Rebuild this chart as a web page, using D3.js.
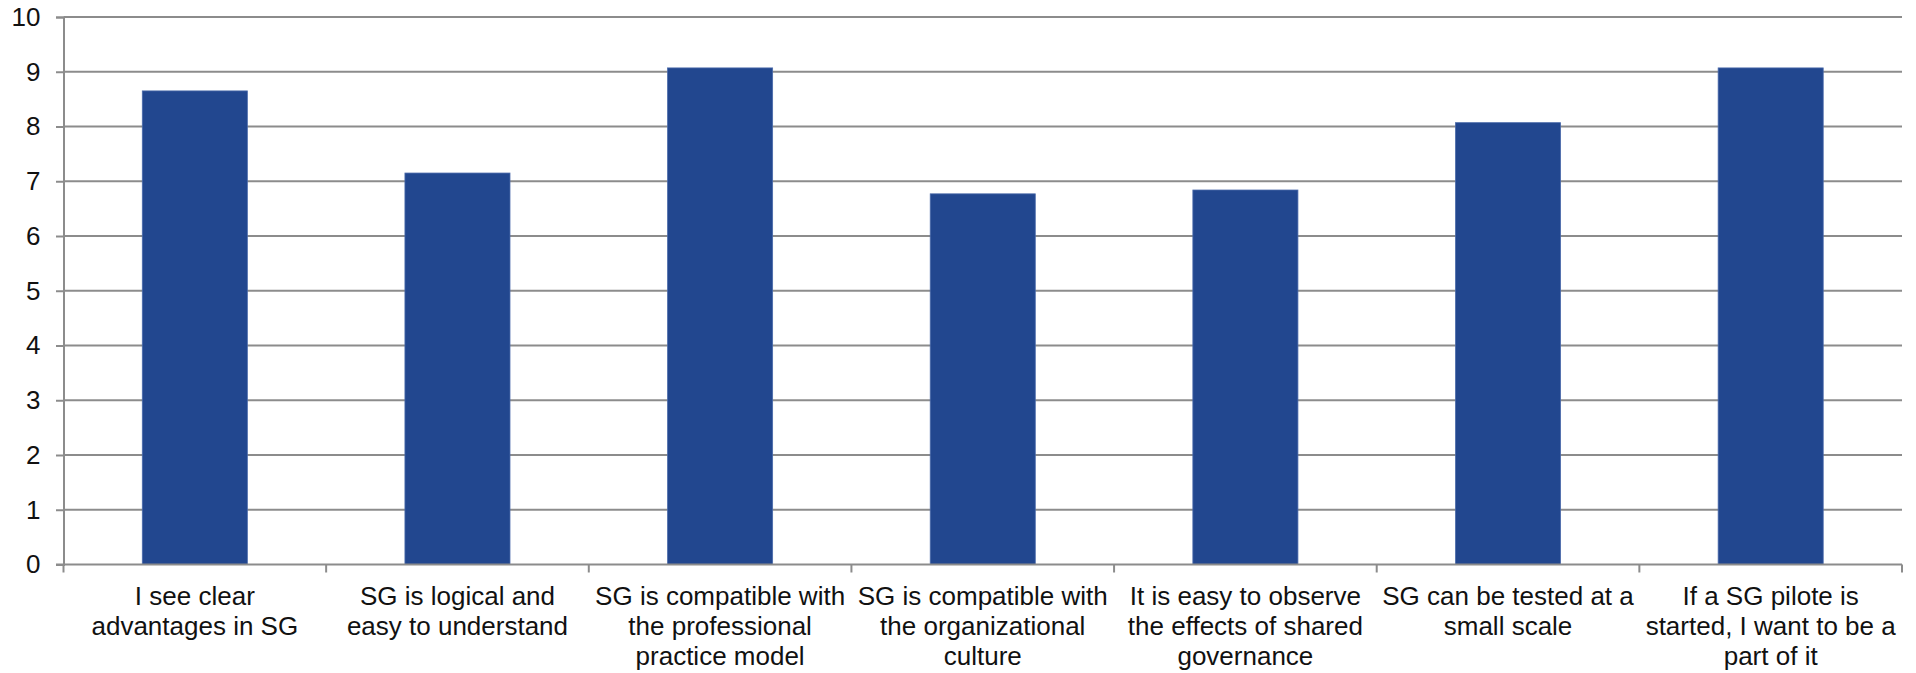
<!DOCTYPE html>
<html>
<head>
<meta charset="utf-8">
<script src="https://cdn.jsdelivr.net/npm/d3@7/dist/d3.min.js"></script>
<style>
  html, body { margin: 0; padding: 0; background: #ffffff; }
  svg { display: block; }
  text { font-family: "Liberation Sans", Arial, sans-serif; fill: #111; }
</style>
</head>
<body>
<svg id="chart" width="1916" height="673"></svg>
<script>
// Survey statements (line breaks mark where each label wraps)
const categories = [
  "I see clear\nadvantages in SG",
  "SG is logical and\neasy to understand",
  "SG is compatible with\nthe professional\npractice model",
  "SG is compatible with\nthe organizational\nculture",
  "It is easy to observe\nthe effects of shared\ngovernance",
  "SG can be tested at a\nsmall scale",
  "If a SG pilote is\nstarted, I want to be a\npart of it"
];
// Mean agreement score per statement
const scores = [8.65, 7.15, 9.07, 6.77, 6.84, 8.07, 9.07];
// Value axis ticks
const yTicks = [0, 1, 2, 3, 4, 5, 6, 7, 8, 9, 10];

const svg = d3.select("#chart");
const plot = { left: 63.5, right: 1902, top: 17, bottom: 564.5 };

const y = d3.scaleLinear().domain([0, 10]).range([plot.bottom, plot.top]);
// Category slots (ticks sit on slot boundaries)
const xSlot = d3.scaleBand().domain(d3.range(categories.length)).range([plot.left, plot.right]).padding(0);
// Bars: 40% of each slot, centred
const xBar = d3.scaleBand().domain(d3.range(categories.length)).range([plot.left, plot.right])
  .paddingInner(0.6).paddingOuter(0.3);

const gridColor = "#8c8c8c";

// Horizontal gridlines
svg.append("g")
  .selectAll("line")
  .data(yTicks.filter(d => d > 0))
  .join("line")
  .attr("x1", plot.left).attr("x2", plot.right)
  .attr("y1", d => y(d)).attr("y2", d => y(d))
  .attr("stroke", gridColor).attr("stroke-width", 2);

// Bars
svg.append("g")
  .selectAll("rect")
  .data(scores)
  .join("rect")
  .attr("x", (d, i) => xBar(i))
  .attr("width", xBar.bandwidth())
  .attr("y", d => y(d))
  .attr("height", d => y(0) - y(d))
  .attr("fill", "#22478f")
  .attr("stroke", "#4a6aaa")
  .attr("stroke-width", 0.8);

// Value axis
const yAxis = svg.append("g")
  .attr("transform", `translate(${plot.left},0)`)
  .call(d3.axisLeft(y).tickValues(yTicks).tickSize(7.5).tickPadding(15.5).tickFormat(d3.format("d")));
yAxis.select(".domain").attr("stroke", gridColor).attr("stroke-width", 2);
yAxis.selectAll(".tick line").attr("stroke", gridColor).attr("stroke-width", 2);
yAxis.selectAll(".tick text")
  .attr("font-size", 26)
  .attr("font-family", "Liberation Sans, Arial, sans-serif")
  .attr("fill", "#111");

// Category axis line
svg.append("line")
  .attr("x1", plot.left - 7.5).attr("x2", plot.right)
  .attr("y1", y(0)).attr("y2", y(0))
  .attr("stroke", gridColor).attr("stroke-width", 2);

// Category boundary ticks
const bounds = d3.range(categories.length + 1).map(i => plot.left + i * xSlot.step());
svg.append("g")
  .selectAll("line")
  .data(bounds)
  .join("line")
  .attr("x1", d => d).attr("x2", d => d)
  .attr("y1", y(0)).attr("y2", y(0) + 8)
  .attr("stroke", gridColor).attr("stroke-width", 2);

// Category labels
const lab = svg.append("g")
  .selectAll("text")
  .data(categories)
  .join("text")
  .attr("x", (d, i) => xSlot(i) + xSlot.bandwidth() / 2)
  .attr("y", y(0) + 40.5)
  .attr("text-anchor", "middle")
  .attr("font-size", 26);
lab.each(function(d) {
  const t = d3.select(this);
  const x = t.attr("x");
  d.split("\n").forEach((line, k) => {
    t.append("tspan").attr("x", x).attr("dy", k === 0 ? 0 : 30).text(line);
  });
});
</script>
</body>
</html>
